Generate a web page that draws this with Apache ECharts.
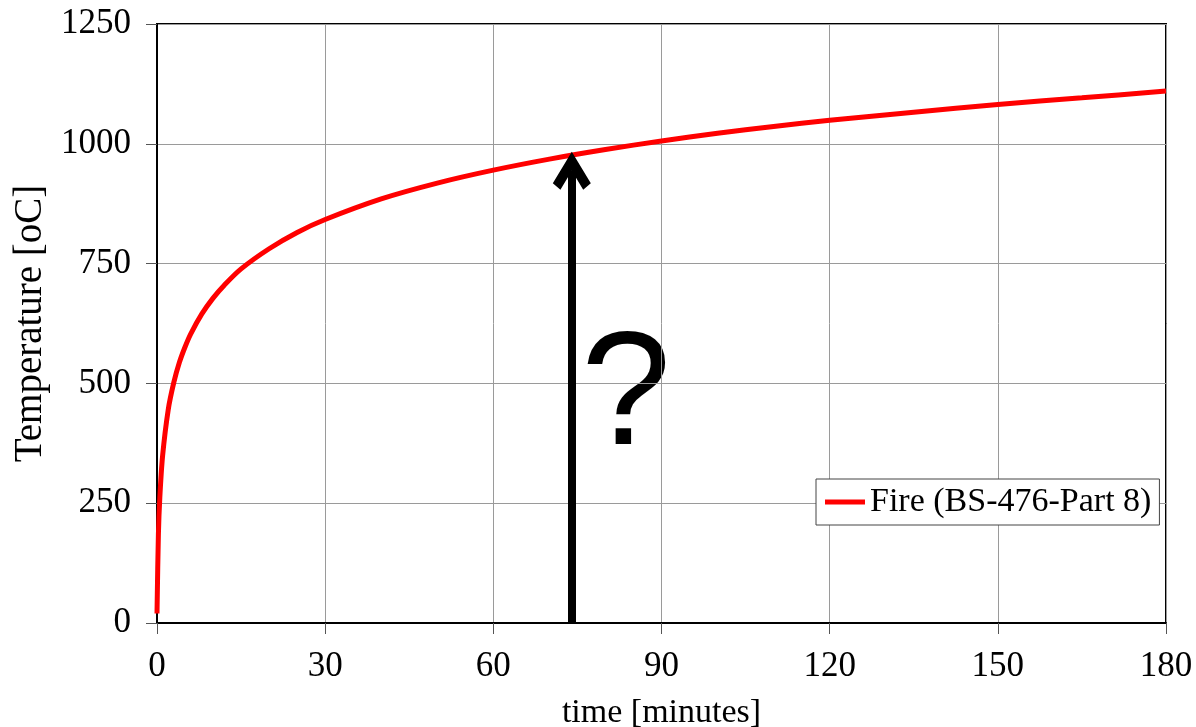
<!DOCTYPE html>
<html>
<head>
<meta charset="utf-8">
<script src="https://cdn.jsdelivr.net/npm/echarts@6/dist/echarts.min.js"></script>
<style>html,body{margin:0;padding:0;background:#fff}#c{width:1196px;height:727px}</style>
</head>
<body>
<div id="c"></div>
<script>
// time [minutes]
const timeMin = [0, 0.25, 0.5, 1, 2, 3, 4, 5, 6, 8, 10, 12, 15, 20, 25, 30, 40, 50, 60, 70, 80, 90, 100, 110, 120, 135, 150, 165, 180];
// temperature [oC]
const tempC = [20, 185, 261, 349, 445, 502, 544, 576, 603, 645, 678, 705, 739, 781, 815, 842, 885, 918, 945, 968, 988, 1006, 1022, 1036, 1049, 1066, 1082, 1096, 1110];
const seriesName = 'Fire (BS-476-Part 8)';
const arrowX = 74;
const arrowFrom = 0;
const arrowTo = 944;
const xTicks = {min: 0, max: 180, interval: 30};
const yTicks = {min: 0, max: 1250, interval: 250};

const font = 'Liberation Serif';
const chart = echarts.init(document.getElementById('c'));
const chevron = 'path://M20 0 L40 30 L32 36 L20 18 L8 36 L0 30 Z';
chart.setOption({
  animation: false,
  grid: {left: 157, right: 30, top: 24, bottom: 104, show: true, borderColor: '#000', borderWidth: 2, containLabel: false, outerBoundsMode: 'none'},
  xAxis: {
    type: 'value', min: xTicks.min, max: xTicks.max, interval: xTicks.interval,
    name: 'time [minutes]', nameLocation: 'middle', nameGap: 73,
    nameTextStyle: {fontFamily: font, fontSize: 34, color: '#000'},
    axisLine: {show: true, lineStyle: {color: '#000', width: 2}},
    axisTick: {show: true, length: 11, lineStyle: {color: '#555', width: 1}},
    axisLabel: {fontFamily: font, fontSize: 35, color: '#000', margin: 26, formatter: v => String(v)},
    splitLine: {show: true, lineStyle: {color: '#9a9a9a', width: 1}}
  },
  yAxis: {
    type: 'value', min: yTicks.min, max: yTicks.max, interval: yTicks.interval,
    name: 'Temperature [oC]', nameLocation: 'middle', nameGap: 100, nameRotate: 90,
    nameTextStyle: {fontFamily: font, fontSize: 39, color: '#000'},
    axisLine: {show: true, lineStyle: {color: '#000', width: 2}},
    axisTick: {show: true, length: 11, lineStyle: {color: '#555', width: 1}},
    axisLabel: {fontFamily: font, fontSize: 35, color: '#000', margin: 26, formatter: v => String(v)},
    splitLine: {show: true, lineStyle: {color: '#9a9a9a', width: 1}}
  },
  legend: {
    left: 816, top: 479, orient: 'horizontal',
    data: [{name: seriesName, icon: 'rect'}],
    itemWidth: 40, itemHeight: 5, itemGap: 6,
    padding: [6, 8, 6, 9],
    backgroundColor: '#fff', borderColor: '#444', borderWidth: 1, borderRadius: 0,
    textStyle: {fontFamily: font, fontSize: 34, color: '#000', padding: [0, 0, 0, 0]}
  },
  series: [
    {
      name: seriesName, type: 'line', smooth: 0.3, showSymbol: false,
      data: timeMin.map((t, i) => [t, tempC[i]]),
      lineStyle: {color: '#ff0000', width: 5}, itemStyle: {color: '#ff0000'}, z: 3
    },
    {
      name: 'arrow', type: 'line', data: [], z: 4,
      markLine: {
        silent: true, animation: false,
        symbol: ['none', chevron], symbolSize: [38, 38],
        label: {show: false},
        lineStyle: {color: '#000', width: 8, type: 'solid', cap: 'butt'},
        data: [[{coord: [arrowX, arrowFrom]}, {coord: [arrowX, arrowTo]}]]
      }
    }
  ],
  graphic: [
    {type: 'text', left: 581, top: 318, style: {text: '?', font: '162px "Liberation Sans", Arial, sans-serif', fill: '#000'}}
  ]
});
</script>
</body>
</html>
